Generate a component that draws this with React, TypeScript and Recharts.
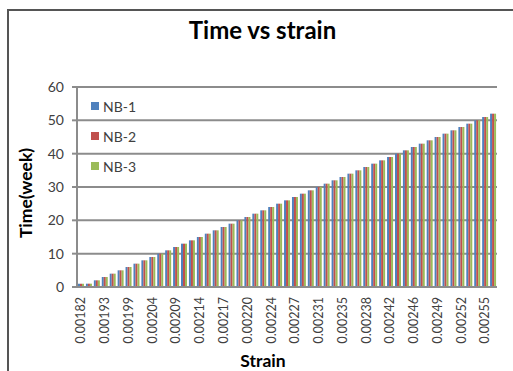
import React from "react"
import { Bar, BarChart, CartesianGrid, XAxis, YAxis } from "recharts"

// strain values on the category axis (only every third one is labelled)
const strain = [
  "0.00182", "0.00186", "0.00190", "0.00193", "0.00195", "0.00197", "0.00199", "0.00201",
  "0.00203", "0.00204", "0.00206", "0.00208", "0.00209", "0.00211", "0.00213", "0.00214",
  "0.00215", "0.00216", "0.00217", "0.00218", "0.00219", "0.00220", "0.00222", "0.00223",
  "0.00224", "0.00225", "0.00226", "0.00227", "0.00228", "0.00230", "0.00231", "0.00232",
  "0.00234", "0.00235", "0.00236", "0.00237", "0.00238", "0.00239", "0.00241", "0.00242",
  "0.00243", "0.00245", "0.00246", "0.00247", "0.00248", "0.00249", "0.00250", "0.00251",
  "0.00252", "0.00253", "0.00254", "0.00255", "0.00256",
]

// time in weeks for each specimen
const nb1 = [
  1, 1, 2, 3, 4, 5, 6, 7, 8, 9, 10, 11, 12, 13, 14, 15, 16, 17, 18, 19, 20, 21, 22, 23, 24, 25,
  26, 27, 28, 29, 30, 31, 32, 33, 34, 35, 36, 37, 38, 39, 40, 41, 42, 43, 44, 45, 46, 47, 48, 49,
  50, 51, 52,
]
const nb2 = [
  1, 1, 2, 3, 4, 5, 6, 7, 8, 9, 10, 11, 12, 13, 14, 15, 16, 17, 18, 19, 20, 21, 22, 23, 24, 25,
  26, 27, 28, 29, 30, 31, 32, 33, 34, 35, 36, 37, 38, 39, 40, 41, 42, 43, 44, 45, 46, 47, 48, 49,
  50, 51, 52,
]
const nb3 = [
  1, 1, 2, 3, 4, 5, 6, 7, 8, 9, 10, 11, 12, 13, 14, 15, 16, 17, 18, 19, 20, 21, 22, 23, 24, 25,
  26, 27, 28, 29, 30, 31, 32, 33, 34, 35, 36, 37, 38, 39, 40, 41, 42, 43, 44, 45, 46, 47, 48, 49,
  50, 51, 52,
]

const yTicks = [0, 10, 20, 30, 40, 50, 60]

const series = [
  { key: "nb1", name: "NB-1", color: "#4F81BD" },
  { key: "nb2", name: "NB-2", color: "#C0504D" },
  { key: "nb3", name: "NB-3", color: "#9BBB59" },
]

const data = strain.map((s, i) => ({ strain: s, nb1: nb1[i], nb2: nb2[i], nb3: nb3[i] }))

const FONT = "Lato, 'Liberation Sans', sans-serif"
const GRID = "#8c8c8c"

function StrainTick({ x, y, payload }: any) {
  return (
    <text
      x={x}
      y={y}
      transform={`rotate(-90 ${x} ${y})`}
      textAnchor="end"
      dy="0.35em"
      fontSize={12.5}
      fontFamily={FONT}
      fill="#404040"
    >
      {payload.value}
    </text>
  )
}

export default function App() {
  return (
    <div
      style={{
        position: "absolute",
        left: 0,
        top: 0,
        width: 513,
        height: 371,
        overflow: "hidden",
        background: "#fff",
        fontFamily: FONT,
      }}
    >
      {/* chart area frame: only the top and left edges fall inside the page */}
      <div style={{ position: "absolute", left: 7, top: 9, width: 506, height: 2, background: "#555" }} />
      <div style={{ position: "absolute", left: 7, top: 9, width: 2, height: 362, background: "#555" }} />
      <div
        style={{
          position: "absolute",
          left: 0,
          width: 525,
          top: 15,
          textAlign: "center",
          fontSize: 24,
          fontWeight: 700,
          color: "#000",
        }}
      >
        Time vs strain
      </div>
      <div
        style={{
          position: "absolute",
          left: 25,
          top: 193,
          transform: "translate(-50%, -50%) rotate(-90deg)",
          whiteSpace: "nowrap",
          fontSize: 17.5,
          fontWeight: 700,
          color: "#000",
        }}
      >
        Time(week)
      </div>
      <div
        style={{
          position: "absolute",
          left: 263,
          top: 350,
          transform: "translateX(-50%)",
          fontSize: 17.5,
          fontWeight: 700,
          color: "#000",
        }}
      >
        Strain
      </div>
      <BarChart
        width={513}
        height={371}
        data={data}
        margin={{ top: 87, right: 16, bottom: 0, left: 37 }}
        barGap={0}
        barSize={2}
        style={{ position: "absolute", left: 0, top: 0 }}
      >
        <CartesianGrid vertical={false} stroke={GRID} strokeWidth={2} />
        <XAxis
          dataKey="strain"
          height={84}
          interval={2}
          tickLine={false}
          tickSize={0}
          tickMargin={10}
          axisLine={{ stroke: GRID, strokeWidth: 2 }}
          tick={<StrainTick />}
        />
        <YAxis
          width={40}
          domain={[0, 60]}
          ticks={yTicks}
          tickSize={5}
          tickMargin={8}
          tickLine={{ stroke: GRID, strokeWidth: 2 }}
          axisLine={{ stroke: GRID, strokeWidth: 2 }}
          tick={{ fontSize: 14, fontFamily: FONT, fill: "#404040" }}
        />
        {series.map((s) => (
          <Bar key={s.key} dataKey={s.key} name={s.name} fill={s.color} isAnimationActive={false} />
        ))}
      </BarChart>
      {/* legend sits inside the plot, upper left */}
      <div style={{ position: "absolute", left: 91, top: 91, fontSize: 14, color: "#404040" }}>
        {series.map((s) => (
          <div key={s.key} style={{ display: "flex", alignItems: "center", height: 30 }}>
            <span style={{ width: 8, height: 8, background: s.color, marginRight: 4 }} />
            <span>{s.name}</span>
          </div>
        ))}
      </div>
    </div>
  )
}
